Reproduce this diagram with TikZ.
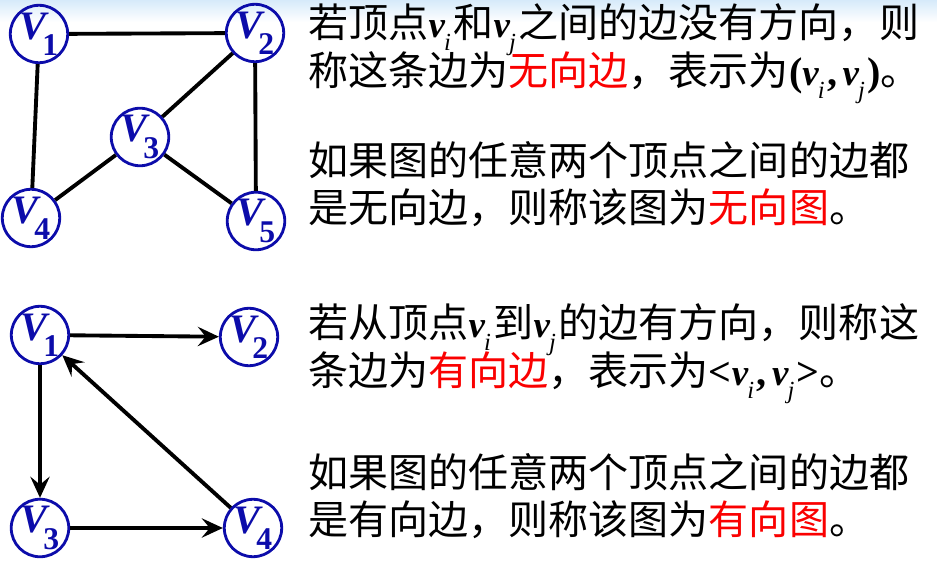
\documentclass[tikz,border=0pt]{standalone}
\usepackage{fontspec}
\usetikzlibrary{arrows.meta}
\newfontfamily\cjk{Noto Sans CJK SC}
\newfontfamily\tnr{Liberation Serif}
\definecolor{VBlue}{RGB}{12,12,170}
\definecolor{KeyRed}{RGB}{250,0,0}
\definecolor{TopBlue}{RGB}{214,234,250}
% vertex label V_k and inline v_i
\newcommand{\vlab}[1]{V\kern-2.5pt\raisebox{-0.40em}{\fontsize{18}{18}\selectfont\upshape #1}}
\newcommand{\vsub}[1]{{\tnr\fontsize{21}{21}\selectfont\bfseries\itshape v\kern-0.5pt\raisebox{-0.36em}{\fontsize{14}{14}\selectfont\mdseries #1}\kern1.5pt}}

\begin{document}
\begin{tikzpicture}[x=0.02cm,y=-0.02cm,
  vert/.style={circle,draw=VBlue,line width=1.6pt,minimum size=1.12cm,inner sep=0pt,
               text=VBlue,font=\tnr\fontsize{23}{23}\selectfont\bfseries\itshape},
  edge/.style={line width=2.2pt},
  arr/.style={-{Stealth[length=12pt,width=11pt,inset=4.5pt]},line width=2.2pt},
  txt/.style={anchor=west,inner sep=0pt,font=\cjk\fontsize{22.8}{22.8}\selectfont},
  key/.style={text=KeyRed}
]
\useasboundingbox (0,0) rectangle (937,567);
\shade[top color=TopBlue,bottom color=white] (0,0) rectangle (937,22);

% undirected graph
\node[vert] (U1) at (39,34) {\vlab{1}};
\node[vert] (U2) at (255,33) {\vlab{2}};
\node[vert] (U3) at (140,137) {\vlab{3}};
\node[vert] (U4) at (31,218) {\vlab{4}};
\node[vert] (U5) at (256,221) {\vlab{5}};
\draw[edge] (U1) -- (U2);
\draw[edge] (U1) -- (U4);
\draw[edge] (U2) -- (U5);
\draw[edge] (U3) -- (U2);
\draw[edge] (U3) -- (U4);
\draw[edge] (U3) -- (U5);

% directed graph
\node[vert] (D1) at (40,335) {\vlab{1}};
\node[vert] (D2) at (249,337) {\vlab{2}};
\node[vert] (D3) at (40,528) {\vlab{3}};
\node[vert] (D4) at (253,528) {\vlab{4}};
\draw[arr] (D1) -- (D2);
\draw[arr] (D1) -- (D3);
\draw[arr] (D3) -- (D4);
\draw[arr] (D4) -- (D1);

% text
\node[txt] (t1) at (308,30) {若顶点\vsub{i}和\vsub{j}之间的边没有方向，则};
\node[txt] (t2) at (308,78) {称这条边为{\color{KeyRed}无向边}，表示为{\tnr\bfseries(}\vsub{i}{\tnr\bfseries,}\kern3pt\vsub{j}{\tnr\bfseries)}。};
\node[txt] (t3) at (308,160) {如果图的任意两个顶点之间的边都};
\node[txt] (t4) at (308,208) {是无向边，则称该图为{\color{KeyRed}无向图}。};
\node[txt] (t5) at (308,330) {若从顶点\vsub{i}到\vsub{j}的边有方向，则称这};
\node[txt] (t6) at (308,378) {条边为{\color{KeyRed}有向边}，表示为{\tnr\bfseries<}\vsub{i}{\tnr\bfseries,}\kern3pt\vsub{j}{\tnr\bfseries>}。};
\node[txt] (t7) at (308,472) {如果图的任意两个顶点之间的边都};
\node[txt] (t8) at (308,520) {是有向边，则称该图为{\color{KeyRed}有向图}。};
\end{tikzpicture}
\end{document}
